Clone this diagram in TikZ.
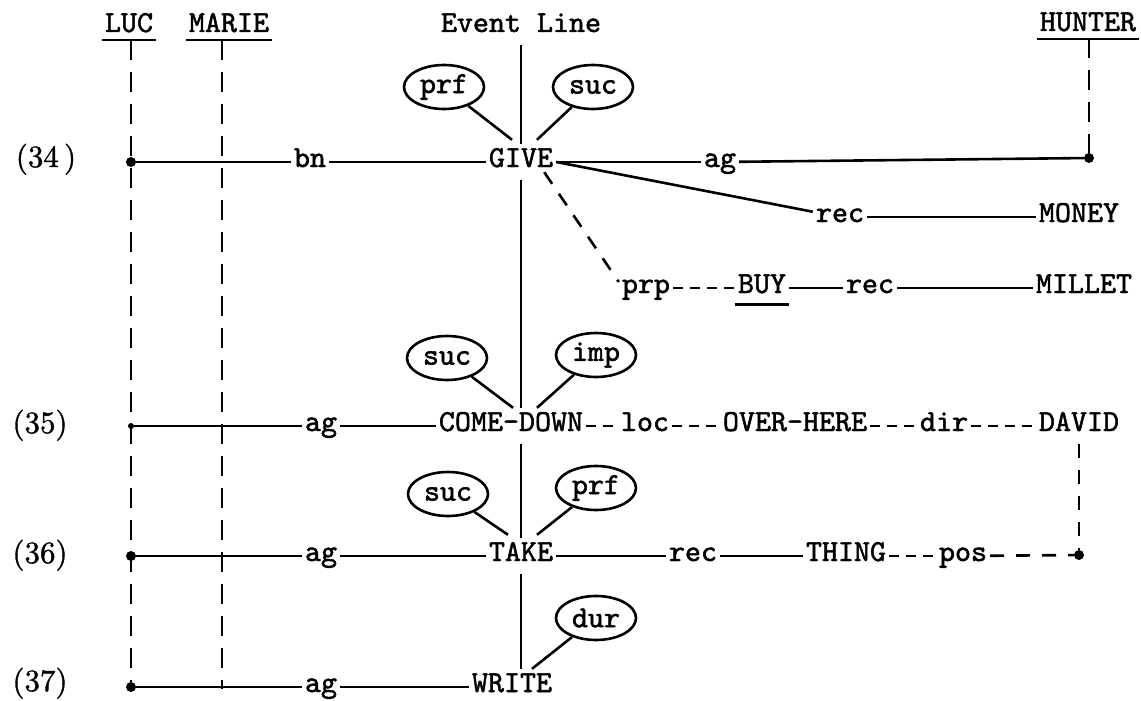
\documentclass[tikz,border=0pt]{standalone}
\usepackage{fontspec}
\usetikzlibrary{shapes.geometric}
% typewriter face, slightly emboldened like a worn ribbon
\newfontfamily\twface[FakeBold=1.6]{lmmono10-regular.otf}
\newfontfamily\rnface[FakeBold=1.2]{lmroman10-regular.otf}
\newcommand\tw{\twface\fontsize{30.5}{32}\selectfont}
\newcommand\rn{\rnface\fontsize{31}{32}\selectfont}
\tikzset{
  lbl/.style={font=\tw, anchor=base, text height=20pt, text depth=10pt, inner sep=3pt},
  num/.style={font=\rn, anchor=base, inner sep=0pt},
  oval/.style={ellipse, draw, line width=2.6pt, minimum width=80pt, minimum height=44pt, inner sep=0pt, font=\tw},
  dot/.style={circle, fill, inner sep=0pt, minimum size=10pt},
  tick/.style={circle, fill, inner sep=0pt, minimum size=6pt},
  rel/.style={line width=2.6pt},
  rdash/.style={line width=2.6pt, dash pattern=on 10pt off 7pt},
  ldash/.style={line width=2.6pt, dash pattern=on 14pt off 12pt},
  life/.style={line width=2.6pt, dash pattern=on 20pt off 12pt},
  ul/.style={line width=2.6pt}
}
\begin{document}
\begin{tikzpicture}[x=1pt, y=-1pt]
\useasboundingbox[fill=white] (0,0) rectangle (1141,701);

% column heads
\node[lbl] (luc)    at (129,32)  {LUC};
\node[lbl] (marie)  at (229,32)  {MARIE};
\node[lbl] (evt)    at (521,32)  {Event Line};
\node[lbl] (hunter) at (1088,31) {HUNTER};
\foreach \n in {luc,marie,hunter}
  \draw[ul] ([yshift=5pt]\n.south west) -- ([yshift=5pt]\n.south east);

% sentence numbers
\node[num] (r34) at (46,167) {(34\,)};
\node[num] (r35) at (40,433) {(35)};
\node[num] (r36) at (40,563) {(36)};
\node[num] (r37) at (40,691) {(37)};

% participant attachment points
\node[dot]  (l34) at (131,162) {};
\node[tick] (l35) at (131,426) {};
\node[dot]  (l36) at (131,556) {};
\node[dot]  (l37) at (131,687) {};
\node[dot]  (h34) at (1089,158) {};
\node[dot]  (dv36) at (1079,555) {};
\coordinate (luctop) at (131,40);
\coordinate (martop) at (222,40);
\coordinate (marbot) at (222,689);
\coordinate (huntop) at (1089,38);

% participant lines
\draw[life] (luctop) -- (l37);
\draw[life] (martop) -- (marbot);
\draw[life] (huntop) -- (h34);

% (34)
\node[lbl] (bn)     at (310,167)  {bn};
\node[lbl] (give)   at (521,167)  {GIVE};
\node[lbl] (ag34)   at (720,167)  {ag};
\node[lbl] (rec34)  at (840,222)  {rec};
\node[lbl] (money)  at (1079,222) {MONEY};
\node[lbl] (prp)    at (646,293)  {prp};
\node[lbl] (buy)    at (762,293)  {BUY};
\node[lbl] (rec34b) at (870,293)  {rec};
\node[lbl] (millet) at (1084,293) {MILLET};
\node[oval] (prf34) at (444,87) {prf};
\node[oval] (suc34) at (593,87) {suc};

\draw[rel] (l34) -- (bn);
\draw[rel] (bn) -- (give);
\draw[rel] (give) -- (ag34);
\draw[rel] (ag34) -- (h34);
\draw[rel] (give.east) -- (rec34);
\draw[rel] (rec34) -- (money);
\draw[ldash] ([xshift=-12pt,yshift=8pt]give.south east) -- ([yshift=6pt]prp.west);
\draw[rdash] (prp) -- (buy);
\draw[ul] ([yshift=2pt]buy.south west) -- ([yshift=2pt]buy.south east);
\draw[rel] (buy) -- (rec34b);
\draw[rel] (rec34b) -- (millet);
\draw[rel] (prf34) -- ([xshift=-9pt,yshift=4pt]give.north);
\draw[rel] (suc34) -- ([xshift=16pt,yshift=4pt]give.north);

% (35)
\node[lbl] (ag35)  at (321,431)  {ag};
\node[lbl] (cd)    at (511,431)  {COME-DOWN};
\node[lbl] (loc)   at (645,431)  {loc};
\node[lbl] (oh)    at (795,431)  {OVER-HERE};
\node[lbl] (dir)   at (944,431)  {dir};
\node[lbl] (david) at (1079,431) {DAVID};
\node[oval] (suc35) at (447,358) {suc};
\node[oval] (imp35) at (596,355) {imp};

\draw[rel] (l35) -- (ag35);
\draw[rel] (ag35) -- (cd);
\draw[rdash] (cd) -- (loc);
\draw[rdash] (loc) -- (oh);
\draw[rdash] (oh) -- (dir);
\draw[rdash] (dir) -- (david);
\draw[ldash] (david) -- (dv36);
\draw[rel] (suc35) -- ([xshift=2pt]cd.north);
\draw[rel] (imp35) -- ([xshift=26pt]cd.north);

% (36)
\node[lbl] (ag36)  at (321,561) {ag};
\node[lbl] (take)  at (521,561) {TAKE};
\node[lbl] (rec36) at (693,561) {rec};
\node[lbl] (thing) at (846,561) {THING};
\node[lbl] (pos)   at (963,561) {pos};
\node[oval] (suc36) at (448,494) {suc};
\node[oval] (prf36) at (596,488) {prf};

\draw[rel] (l36) -- (ag36);
\draw[rel] (ag36) -- (take);
\draw[rel] (take) -- (rec36);
\draw[rel] (rec36) -- (thing);
\draw[rdash] (thing) -- (pos);
\draw[ldash] (pos) -- (dv36);
\draw[rel] (suc36) -- ([xshift=-13pt,yshift=3pt]take.north);
\draw[rel] (prf36) -- ([xshift=16pt,yshift=3pt]take.north);

% (37)
\node[lbl] (ag37)  at (321,692) {ag};
\node[lbl] (write) at (512,692) {WRITE};
\node[oval] (dur37) at (596,618) {dur};

\draw[rel] (l37) -- (ag37);
\draw[rel] (ag37) -- (write);
\draw[rel] (dur37) -- ([xshift=20pt]write.north);

% event line
\draw[rel] (evt) -- (give);
\draw[rel] (give) -- (give |- cd.north);
\draw[rel] (give |- cd.south) -- (take);
\draw[rel] (take) -- (take |- write.north);
\end{tikzpicture}
\end{document}
